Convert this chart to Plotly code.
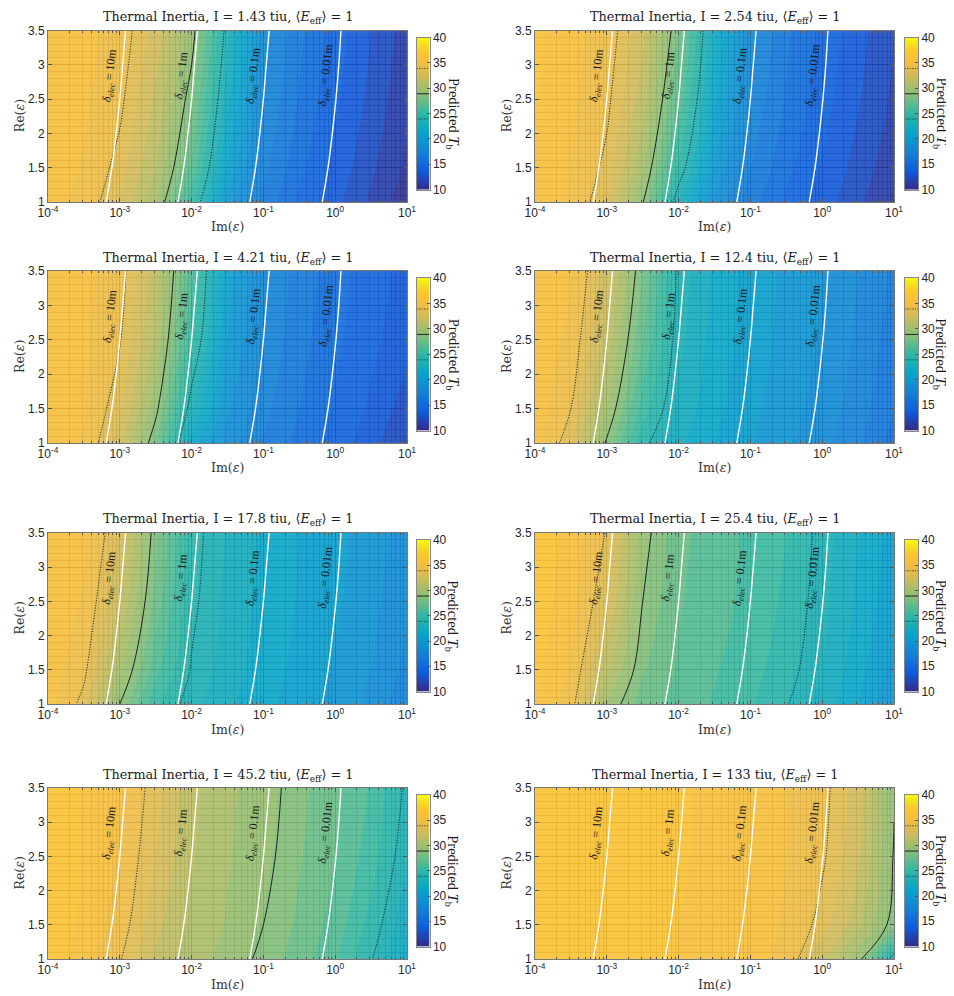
import numpy as np
import plotly.graph_objects as go

W, H = 954, 996
PAGE_OFFSET = 8  # default body margin of the written page

# Im(eps) given as log10 exponent, Re(eps) rows of the grid
im_exp = [-4, -3.5, -3, -2.5, -2, -1.5, -1, -0.5, 0, 0.5, 1]
re_rows = [1, 1.5, 2.5, 3.5]

inertia = ["1.43", "2.54", "4.21", "12.4", "17.8", "25.4", "45.2", "133"]

# predicted brightness temperature, one row per Re value
tb_143 = [[35.4, 34.7, 32.9, 30.1, 25.3, 19.5, 16.7, 14.8, 13.3, 11.8, 10.3],
          [35.6, 34.9, 33.5, 31.0, 26.8, 20.8, 17.3, 15.3, 13.7, 12.2, 10.8],
          [35.7, 35.2, 34.2, 31.8, 28.3, 22.3, 18.0, 15.9, 14.2, 12.7, 11.2],
          [35.8, 35.3, 34.6, 32.6, 29.5, 23.3, 18.5, 16.3, 14.5, 13.0, 11.5]]
tb_254 = [[35.7, 34.9, 33.0, 29.0, 23.0, 18.8, 16.4, 14.8, 13.5, 12.2, 10.8],
          [35.9, 35.0, 33.6, 30.2, 24.8, 19.9, 17.0, 15.3, 13.9, 12.6, 11.3],
          [36.1, 35.2, 34.2, 31.5, 26.8, 21.2, 17.8, 15.9, 14.4, 13.1, 11.8],
          [36.2, 35.3, 34.6, 32.3, 28.0, 22.0, 18.3, 16.2, 14.7, 13.4, 12.0]]
tb_421 = [[35.6, 34.9, 32.4, 28.0, 21.5, 18.6, 16.9, 15.7, 14.6, 13.4, 11.8],
          [35.8, 35.1, 33.2, 29.3, 23.2, 19.2, 17.3, 16.0, 14.9, 13.8, 12.5],
          [35.9, 35.2, 34.0, 30.8, 25.3, 20.0, 17.8, 16.4, 15.2, 14.3, 13.3],
          [36.0, 35.3, 34.4, 31.5, 26.3, 20.5, 18.0, 16.6, 15.4, 14.5, 13.6]]
tb_124 = [[35.4, 33.2, 28.7, 24.3, 22.2, 21.0, 20.1, 19.2, 18.3, 17.2, 15.6],
          [35.6, 33.9, 30.0, 25.5, 22.7, 21.3, 20.3, 19.4, 18.6, 17.5, 16.0],
          [35.8, 34.7, 31.6, 27.0, 23.3, 21.6, 20.5, 19.7, 18.9, 17.8, 16.5],
          [35.9, 35.1, 32.5, 28.0, 23.6, 21.8, 20.6, 19.8, 19.0, 18.0, 16.8]]
tb_178 = [[35.4, 33.5, 28.9, 25.2, 23.3, 22.2, 21.3, 20.5, 19.7, 18.7, 17.2],
          [35.6, 34.2, 30.3, 26.3, 23.8, 22.5, 21.5, 20.7, 19.9, 19.0, 17.7],
          [35.8, 34.9, 32.0, 27.6, 24.2, 22.7, 21.7, 20.9, 20.2, 19.3, 18.2],
          [36.0, 35.2, 33.0, 28.3, 24.4, 22.9, 21.8, 21.0, 20.3, 19.5, 18.5]]
tb_254b = [[36.0, 34.4, 29.8, 27.5, 26.6, 25.9, 25.1, 24.0, 22.6, 21.0, 19.0],
           [36.3, 34.9, 31.3, 28.1, 26.9, 26.1, 25.4, 24.4, 23.0, 21.4, 19.6],
           [36.6, 35.4, 33.0, 28.9, 27.1, 26.4, 25.7, 24.8, 23.3, 21.8, 20.3],
           [36.8, 35.6, 33.8, 29.4, 27.3, 26.5, 25.8, 25.0, 23.5, 22.0, 20.6]]
tb_452 = [[36.6, 35.6, 34.0, 31.8, 30.5, 29.6, 28.6, 27.5, 26.2, 24.0, 21.5],
          [36.7, 35.8, 34.5, 32.3, 30.8, 29.9, 28.9, 27.8, 26.6, 24.6, 22.2],
          [36.8, 35.9, 34.9, 33.0, 31.1, 30.1, 29.3, 28.1, 27.0, 25.5, 23.1],
          [36.8, 35.9, 35.1, 33.4, 31.3, 30.2, 29.5, 28.3, 27.2, 25.9, 23.6]]
tb_133 = [[36.5, 36.4, 36.3, 36.2, 36.0, 35.7, 35.3, 34.8, 32.0, 29.5, 23.0],
          [36.5, 36.4, 36.3, 36.2, 36.0, 35.7, 35.4, 34.9, 33.5, 31.3, 28.3],
          [36.6, 36.5, 36.4, 36.3, 36.1, 35.8, 35.5, 35.0, 34.1, 32.2, 28.8],
          [36.6, 36.5, 36.4, 36.3, 36.1, 35.8, 35.5, 35.0, 34.3, 32.5, 29.0]]
tb_panels = [tb_143, tb_254, tb_421, tb_124, tb_178, tb_254b, tb_452, tb_133]

# observed Tb and +-5 K
tb_levels = [23.9, 28.9, 33.9]

# electrical skin depth curves (log10 Im) at these Re values
re_line = [1, 1.5, 2, 2.5, 3, 3.5]
delta_10m = [-3.19, -3.11, -3.05, -3.00, -2.96, -2.92]
delta_1m = [-2.19, -2.11, -2.05, -2.00, -1.96, -1.92]
delta_01m = [-1.19, -1.11, -1.05, -1.00, -0.96, -0.92]
delta_001m = [-0.18, -0.10, -0.04, 0.01, 0.05, 0.08]
delta_lines = [delta_10m, delta_1m, delta_01m, delta_001m]
delta_names = ["10m", "1m", "0.1m", "0.01m"]

parula = [[0.0, "#352a87"], [0.125, "#0f5cdd"], [0.25, "#1481d6"],
          [0.375, "#06a4ca"], [0.5, "#2eb7a4"], [0.625, "#87bf77"],
          [0.75, "#d1bb59"], [0.833, "#f5bd40"], [0.9, "#fdc42e"],
          [0.95, "#f5dc20"], [1.0, "#f9fb0e"]]

SERIF = "DejaVu Serif"
SERIF2 = "Liberation Serif"
SANS = "Liberation Sans"

# panel boxes in pixels (top, bottom) per row, (left, right) per column
rows_px = [(30.5, 202), (271, 443), (533, 704), (788, 959)]
cols_px = [(48, 407), (535, 894)]
cb_px = [(416.5, 429.5), (904.5, 918)]
cb_label_gap = [23, 22]


def px_x(p):
    return (p - PAGE_OFFSET) / W


def px_y(p):
    return 1 - (p - PAGE_OFFSET) / H


minor_x = [e + np.log10(m) for e in range(-4, 1) for m in range(2, 10)]
DOTS = "1px,1.6px"

fig = go.Figure()
layout = {}
annotations = []

for k, z in enumerate(tb_panels):
    r, c = divmod(k, 2)
    top, bot = rows_px[r]
    left, right = cols_px[c]
    ia, ib = 2 * k + 1, 2 * k + 2
    xa, ya = f"x{ia}", f"y{ia}"
    xb, yb = f"x{ib}", f"y{ib}"

    # filled contour map
    fig.add_trace(go.Contour(
        x=im_exp, y=re_rows, z=z, zmin=10, zmax=40, autocontour=False,
        contours=dict(start=10, end=40, size=1, coloring="fill", showlines=False),
        colorscale=parula, showscale=False, opacity=0.9,
        line=dict(width=0, smoothing=1), hoverinfo="skip", xaxis=xa, yaxis=ya))
    # +-5 K dotted contours and observed temperature contour
    fig.add_trace(go.Contour(
        x=im_exp, y=re_rows, z=z, autocontour=False,
        contours=dict(start=tb_levels[0], end=tb_levels[2], size=tb_levels[2] - tb_levels[0],
                      coloring="none"),
        line=dict(color="#111111", dash=DOTS, width=1, smoothing=1),
        showscale=False, hoverinfo="skip", xaxis=xa, yaxis=ya))
    fig.add_trace(go.Contour(
        x=im_exp, y=re_rows, z=z, autocontour=False,
        contours=dict(start=tb_levels[1], end=tb_levels[1], size=1, coloring="none"),
        line=dict(color="#222222", width=1, smoothing=1),
        showscale=False, hoverinfo="skip", xaxis=xa, yaxis=ya))
    # skin depth lines
    for d, name in zip(delta_lines, delta_names):
        fig.add_trace(go.Scatter(x=d, y=re_line, mode="lines", line=dict(color="white", width=1.4, shape="spline"),
                                 hoverinfo="skip", showlegend=False, xaxis=xa, yaxis=ya))
        annotations.append(dict(
            x=float(np.interp(2.85, re_line, d)) - 0.16, y=2.85, xref=xa, yref=ya,
            xanchor="center", yanchor="middle",
            text=f"<i>δ</i><sub><i>elec</i></sub> = {name}", showarrow=False, textangle=-84,
            font=dict(family=SERIF2, size=12, color="#1a1a1a")))

    # colorbar built as a small heatmap on its own axis
    cb_vals = np.linspace(10, 40, 241)
    fig.add_trace(go.Heatmap(x=[0.5], y=cb_vals, z=[[v] for v in cb_vals], colorscale=parula,
                             zmin=10, zmax=40, showscale=False, hoverinfo="skip", xaxis=xb, yaxis=yb))
    for lvl, dash in zip(tb_levels, [DOTS, "solid", DOTS]):
        fig.add_trace(go.Scatter(x=[0, 1], y=[lvl, lvl], mode="lines",
                                 line=dict(color="#222222", width=1, dash=dash),
                                 hoverinfo="skip", showlegend=False, xaxis=xb, yaxis=yb))

    sfx_a = "" if ia == 1 else str(ia)
    sfx_b = str(ib)
    tickfont = dict(family=SANS, size=12, color="#262626")
    layout[f"xaxis{sfx_a}"] = dict(
        domain=[px_x(left), px_x(right)], anchor=ya, range=[-4, 1], automargin=False,
        tickvals=[-4, -3, -2, -1, 0, 1],
        ticktext=["10<sup>-4</sup>", "10<sup>-3</sup>", "10<sup>-2</sup>",
                  "10<sup>-1</sup>", "10<sup>0</sup>", "10<sup>1</sup>"],
        ticks="inside", ticklen=4, tickcolor="#555555", tickfont=tickfont,
        showline=True, linecolor="#777777", mirror="ticks", zeroline=False,
        showgrid=True, gridcolor="rgba(0,0,0,0.9)", gridwidth=0.6,
        minor=dict(tickmode="array", tickvals=minor_x, ticks="inside", ticklen=2,
                   tickcolor="#555555", showgrid=True, gridcolor="rgba(0,0,0,0.6)", gridwidth=0.5))
    layout[f"yaxis{sfx_a}"] = dict(
        domain=[px_y(bot), px_y(top)], anchor=xa, range=[1, 3.5], automargin=False,
        tickvals=[1, 1.5, 2, 2.5, 3, 3.5], ticktext=["1", "1.5", "2", "2.5", "3", "3.5"],
        ticks="inside", ticklen=4, tickcolor="#555555", tickfont=tickfont,
        showline=True, linecolor="#777777", mirror="ticks", zeroline=False,
        showgrid=True, gridcolor="rgba(0,0,0,0.9)", gridwidth=0.6,
        minor=dict(dtick=0.1, tick0=1, showgrid=True, gridcolor="rgba(0,0,0,0.6)", gridwidth=0.5))
    layout[f"xaxis{sfx_b}"] = dict(
        domain=[px_x(cb_px[c][0]), px_x(cb_px[c][1])], anchor=yb, range=[0, 1], automargin=False,
        showticklabels=False, ticks="", showgrid=False, zeroline=False,
        showline=True, linecolor="#888888", mirror=True)
    layout[f"yaxis{sfx_b}"] = dict(
        domain=[px_y(bot - 12.5), px_y(top + 7)], anchor=xb, range=[10, 40], side="right",
        automargin=False,
        tickvals=[10, 15, 20, 25, 30, 35, 40], ticks="inside", ticklen=3, tickcolor="#555555",
        tickfont=tickfont, showgrid=False, zeroline=False,
        showline=True, linecolor="#888888", mirror=True)

    # titles and axis labels
    annotations.append(dict(
        x=px_x((left + right) / 2), y=px_y(top - 13), xref="paper", yref="paper",
        xanchor="center", yanchor="middle",
        text=f"Thermal Inertia, I = {inertia[k]} tiu, ⟨<i>E</i><sub>eff</sub>⟩ = 1",
        showarrow=False, font=dict(family=SERIF, size=12.8, color="#1a1a1a")))
    annotations.append(dict(
        x=px_x((left + right) / 2), y=px_y(bot + 25), xref="paper", yref="paper",
        xanchor="center", yanchor="middle",
        text="Im(<i>ε</i>)", showarrow=False, font=dict(family=SERIF, size=12.5, color="#333333")))
    annotations.append(dict(
        x=px_x(left - 29), y=px_y((top + bot) / 2), xref="paper", yref="paper",
        xanchor="center", yanchor="middle",
        text="Re(<i>ε</i>)", showarrow=False, textangle=-90,
        font=dict(family=SERIF, size=12.5, color="#333333")))
    annotations.append(dict(
        x=px_x(cb_px[c][1] + cb_label_gap[c]), y=px_y((top + 7 + bot - 12.5) / 2),
        xref="paper", yref="paper", xanchor="center", yanchor="middle",
        text="Predicted <i>T</i><sub>b</sub>", showarrow=False, textangle=90,
        font=dict(family=SERIF2, size=14.5, color="#1a1a1a")))

fig.update_layout(
    width=W, height=H, margin=dict(l=0, r=0, t=0, b=0, autoexpand=False),
    paper_bgcolor="white", plot_bgcolor="white", showlegend=False,
    annotations=annotations, **layout)

fig.write_html("out.html")
